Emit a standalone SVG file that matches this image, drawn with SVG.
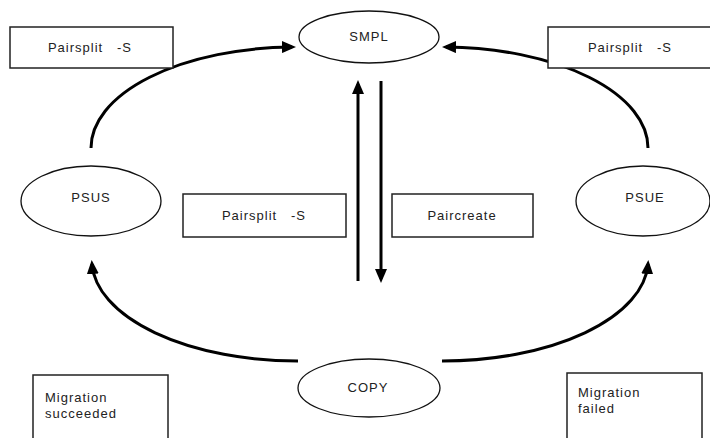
<svg xmlns="http://www.w3.org/2000/svg" width="710" height="438" viewBox="0 0 710 438">
<style>
  .box { fill: #fff; stroke: #222; stroke-width: 1.5; }
  .ell { fill: #fff; stroke: #111; stroke-width: 1.3; }
  .conn { fill: none; stroke: #000; stroke-width: 3; }
  text { font-family: "Liberation Sans", Arial, sans-serif; font-size: 13px; fill: #222; letter-spacing: 1px; white-space: pre; }
  .c { text-anchor: middle; }
</style>
<defs>
  <marker id="ah" markerUnits="userSpaceOnUse" markerWidth="14" markerHeight="12" refX="10" refY="6" orient="auto">
    <path d="M0,0 L14,6 L0,12 z" fill="#000"/>
  </marker>
</defs>
<rect width="710" height="438" fill="#fff"/>
<g id="connectors">
  <path class="conn" d="M91,148 A205,101 0 0 1 292,47" marker-end="url(#ah)"/>
  <path class="conn" d="M648,148 A206,101 0 0 0 446,47" marker-end="url(#ah)"/>
  <path class="conn" d="M298,361 A206,101 0 0 1 92,264" marker-end="url(#ah)"/>
  <path class="conn" d="M442,361 A206,101 0 0 0 648,264" marker-end="url(#ah)"/>
  <path class="conn" d="M358,281 L358,84" marker-end="url(#ah)"/>
  <path class="conn" d="M381,81 L381,279" marker-end="url(#ah)"/>
</g>
<g id="label-pairsplit-left">
  <rect class="box" x="10" y="27" width="163" height="41"/>
  <text class="c" x="90" y="52" xml:space="preserve">Pairsplit   -S</text>
</g>
<g id="label-pairsplit-right">
  <rect class="box" x="548" y="27" width="170" height="41"/>
  <text class="c" x="630" y="52" xml:space="preserve">Pairsplit   -S</text>
</g>
<g id="SMPL">
  <ellipse class="ell" cx="369" cy="37" rx="70" ry="26"/>
  <text class="c" x="369" y="41">SMPL</text>
</g>
<g id="PSUS">
  <ellipse class="ell" cx="91" cy="201" rx="70" ry="35"/>
  <text class="c" x="91" y="202">PSUS</text>
</g>
<g id="PSUE">
  <ellipse class="ell" cx="643" cy="201" rx="67" ry="35"/>
  <text class="c" x="645" y="202">PSUE</text>
</g>
<g id="label-pairsplit-mid">
  <rect class="box" x="183" y="194" width="163" height="43"/>
  <text class="c" x="264" y="220" xml:space="preserve">Pairsplit   -S</text>
</g>
<g id="label-paircreate">
  <rect class="box" x="392" y="194" width="141" height="43"/>
  <text class="c" x="462" y="220">Paircreate</text>
</g>
<g id="COPY">
  <ellipse class="ell" cx="369" cy="388" rx="71" ry="29"/>
  <text class="c" x="368" y="392">COPY</text>
</g>
<g id="note-succeeded">
  <rect class="box" x="33" y="375" width="135" height="80"/>
  <text x="45" y="402">Migration</text>
  <text x="45" y="418">succeeded</text>
</g>
<g id="note-failed">
  <rect class="box" x="567" y="373" width="135" height="80"/>
  <text x="578" y="397">Migration</text>
  <text x="578" y="413">failed</text>
</g>
</svg>
